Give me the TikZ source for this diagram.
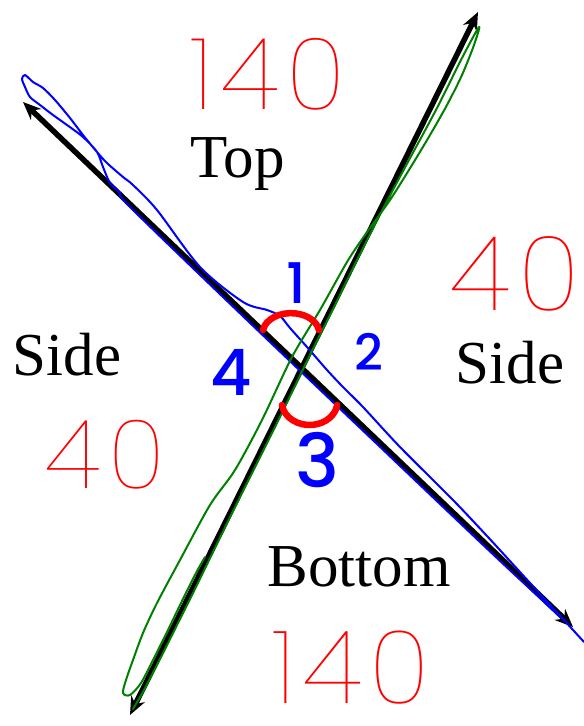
\documentclass[tikz,border=0pt]{standalone}
\usepackage{fontspec}
\setmainfont{Liberation Serif}
\IfFontExistsTF{Poppins Thin}
  {\newfontfamily\handfont{Poppins Thin}[LetterSpace=8]}
  {\newfontfamily\handfont{Poppins}[LetterSpace=8]}
\IfFontExistsTF{Poppins Medium}
  {\newfontfamily\numfont{Poppins Medium}}
  {\newfontfamily\numfont{Poppins}}
\usetikzlibrary{arrows.meta}

\begin{document}
\begin{tikzpicture}[x=1pt, y=-1pt, >={Stealth[length=18pt,width=15pt]},
    lbl/.style={font=\fontsize{61}{70}\selectfont, anchor=base},
    degnum/.style={text=red, inner sep=0pt, font=\handfont\fontsize{#1}{#1}\selectfont},
    angnum/.style={text=blue, inner sep=0pt, font=\numfont\fontsize{#1}{#1}\selectfont},
    pen/.style={line width=2pt, line join=round, line cap=round}]
    \useasboundingbox (0,0) rectangle (584,726);

    \coordinate (nw) at (23,102);
    \coordinate (se) at (573,627);
    \coordinate (sw) at (130,715);
    \coordinate (ne) at (478,12);

    \draw[<->, line width=5.5pt] (nw) -- (se);
    \draw[<->, line width=5.5pt] (sw) -- (ne);

    % traced over the lines
    \draw[pen, blue] plot[smooth, tension=0.5] coordinates {(584,642) (552,607) (520,572) (487,536) (453,500) (400,447) (363,407) (343,387) (327,370) (307,347) (290,328) (280,316) (267,310) (243,302) (200,267) (157,210) (133,185) (123,177) (107,163) (97,152) (83,135) (70,118) (55,100) (43,88) (33,82) (25,75) (22,79) (25,87) (30,97) (40,105) (53,115) (67,125) (83,137) (97,152) (103,167) (110,183) (120,193) (131,208) (248,321) (398,464) (498,559) (568,624)};
    \draw[pen, green!50!black] plot[smooth, tension=0.5] coordinates {(133,709) (144,690) (161,657) (177,625) (194,591) (213,552) (240,497) (276,425) (309,357) (335,305) (357,260) (385,205) (409,160) (437,108) (462,58) (479,27) (474,45) (462,75) (447,105) (430,135) (412,165) (390,200) (365,235) (347,262) (320,310) (292,357) (262,420) (235,470) (210,505) (180,560) (157,603) (143,633) (133,660) (126,680) (123,693) (130,695) (141,683) (153,660) (168,630) (181,603) (196,573) (205,557)};

    \draw[red, line width=6.5pt, line cap=round] (263,330) arc[start angle=189, end angle=351, x radius=28.3, y radius=20];
    \draw[red, line width=6.5pt, line cap=round] (282,405) arc[start angle=172.5, end angle=7.5, x radius=27.8, y radius=23];

    \node[lbl] (top) at (237.5,177) {Top};
    \node[lbl] (bottom) at (359,586) {Bottom};
    \node[lbl] (sideL) at (67,375) {Side};
    \node[lbl] (sideR) at (510,383) {Side};

    \node[degnum=100] (degT) at (268,74) {140};
    \node[degnum=102] (degB) at (351,668) {140};
    \node[degnum=104] (degR) at (515,274) {40};
    \node[degnum=96] (degL) at (105,455) {40};

    \node[angnum=56] (a1) at (296,283) {1};
    \node[angnum=50] (a2) at (369,352) {2};
    \node[angnum=64] (a4) at (231,372) {4};
    \node[angnum=74] (a3) at (317,460) {3};
\end{tikzpicture}
\end{document}
